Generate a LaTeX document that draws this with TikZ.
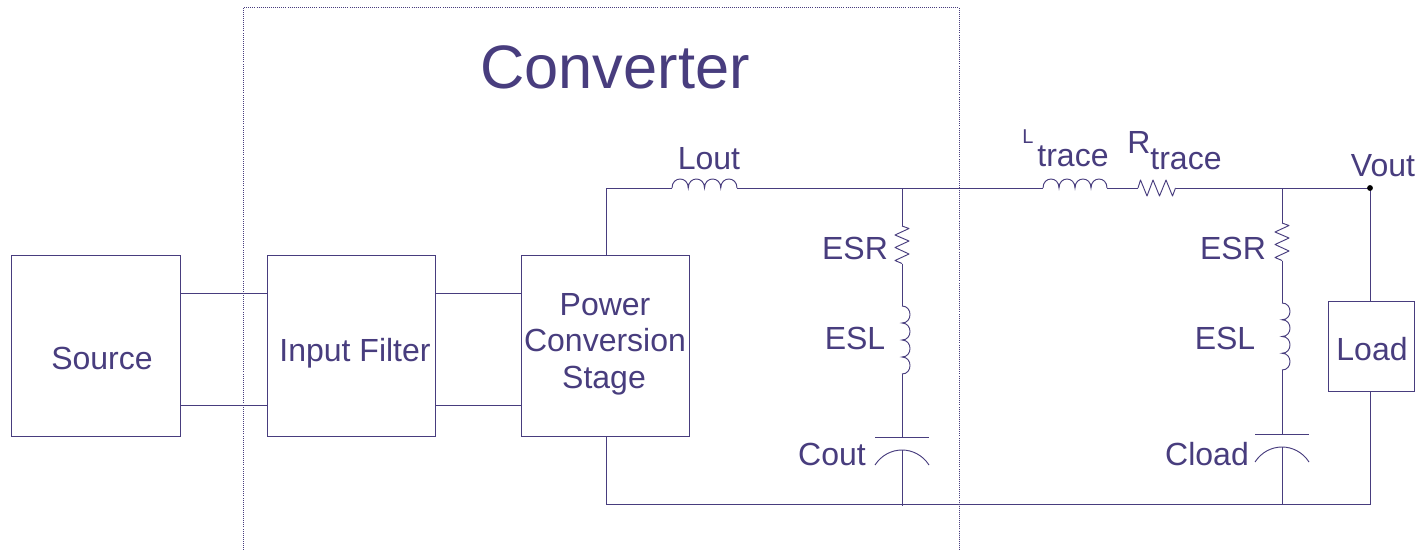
\documentclass[tikz,border=0pt]{standalone}
\usepackage{fontspec}
\setmainfont{Liberation Sans}
\definecolor{ink}{HTML}{483D7E}
\tikzset{
  x=0.75pt, y=-0.75pt,
  wire/.style={draw=ink, line width=0.75pt},
  comp/.style={draw=ink, line width=0.7pt},
  box/.style={draw=ink, line width=0.75pt, inner sep=0pt, minimum height=135.75pt},
  txt/.style={text=ink, inner sep=0pt, anchor=base, font=\fontsize{24}{27}\selectfont},
  pics/coil/.style n args={2}{code={
    \coordinate (-in) at (0,0);
    \coordinate (-out) at (#1,0);
    \draw[comp] (0,0)
      .. controls (0,-4*#2/3) and (#1/4,-4*#2/3) .. (#1/4,0)
      .. controls (#1/4,-4*#2/3) and (#1/2,-4*#2/3) .. (#1/2,0)
      .. controls (#1/2,-4*#2/3) and (3*#1/4,-4*#2/3) .. (3*#1/4,0)
      .. controls (3*#1/4,-4*#2/3) and (#1,-4*#2/3) .. (#1,0);
  }},
  pics/zig/.style={code={
    \coordinate (-in) at (0,0);
    \coordinate (-out) at (37.5,0);
    \draw[comp, line join=round] (0,0) -- (2.5,-#1) -- (9,#1) -- (15,-#1) -- (21.5,#1) -- (28,-#1) -- (34.5,#1) -- (37.5,0);
  }},
  pics/cap/.style={code={
    \coordinate (-plate) at (0,0);
    \coordinate (-arc) at (0,13);
    \draw[comp] (-27,0) -- (27,0);
    \draw[comp] (-27,28) .. controls (-14,8) and (14,8) .. (27,28);
  }},
}
\begin{document}
\begin{tikzpicture}
\useasboundingbox (0,0) rectangle (1423,550);
\fill[white] (0,0) rectangle (1423,550);
% converter frame
\begin{scope}
\clip (0,0) rectangle (1423,550);
\draw[ink, line width=0.55pt, densely dotted] (243,552) -- (243,7.5) -- (959,7.5) -- (959,552);
\end{scope}
% blocks
\node[box, minimum width=126.5pt] (src) at (96,345.5) {};
\node[box, minimum width=126.5pt] (flt) at (351.5,345.5) {};
\node[box, minimum width=126.5pt] (pcs) at (605.5,346) {};
\node[draw=ink, line width=0.75pt, inner sep=0pt, minimum width=64.5pt, minimum height=67.5pt] (load) at (1371,346) {};
% block links
\draw[wire] (src.east |- 0,293) -- (flt.west |- 0,293);
\draw[wire] (src.east |- 0,405) -- (flt.west |- 0,405);
\draw[wire] (flt.east |- 0,293) -- (pcs.west |- 0,293);
\draw[wire] (flt.east |- 0,405) -- (pcs.west |- 0,405);
% series parts
\pic (lout) at (672,188) {coil={65}{9}};
\pic (ltr) at (1043,188) {coil={64}{9}};
\pic (rtr) at (1138,188) {zig=8};
\coordinate (vout) at (1370,188);
\coordinate (gnd) at (1370,504.5);
\coordinate (n1) at (902,188);
\coordinate (n2) at (1282,188);
\coordinate (g1) at (902,506);
\coordinate (g2) at (1282,504.5);
\coordinate (pt) at (606.5,188);
\coordinate (pb) at (606.5,504.5);
% first branch
\pic[rotate=-90] (esr1) at (902,226) {zig=7};
\pic[rotate=-90] (esl1) at (902,306) {coil={68}{8}};
\pic (c1) at (902,437) {cap};
% second branch
\pic[rotate=-90] (esr2) at (1282,223) {zig=7};
\pic[rotate=-90] (esl2) at (1282,303) {coil={67}{8}};
\pic (c2) at (1282,434) {cap};
% wiring
\draw[wire] (pcs.north -| pt) -- (pt) -- (lout-in);
\draw[wire] (lout-out) -- (ltr-in);
\draw[wire] (ltr-out) -- (rtr-in);
\draw[wire] (rtr-out) -- (vout);
\draw[wire] (vout) -- (load.north -| vout);
\draw[wire] (load.south -| vout) -- (gnd) -- (pb) -- (pcs.south -| pb);
\draw[wire] (n1) -- (esr1-in);
\draw[wire] (esr1-out) -- (esl1-in);
\draw[wire] (esl1-out) -- (c1-plate);
\draw[wire] (c1-arc) -- (g1);
\draw[wire] (n2) -- (esr2-in);
\draw[wire] (esr2-out) -- (esl2-in);
\draw[wire] (esl2-out) -- (c2-plate);
\draw[wire] (c2-arc) -- (g2);
\fill[black] (vout) circle[radius=2.2pt];
% labels
\node[txt, font=\fontsize{46}{50}\selectfont] (t0) at (615,88) {Converter};
\node[txt] (t1) at (102,369) {Source};
\node[txt] (t2) at (355,361) {Input Filter};
\node[txt] (t3) at (605,315) {Power};
\node[txt] (t4) at (605,351) {Conversion};
\node[txt] (t5) at (604,388) {Stage};
\node[txt] (t6) at (709,169) {Lout};
\node[txt, font=\fontsize{15}{17}\selectfont] (t7) at (1028,143) {L};
\node[txt] (t8) at (1073,166) {trace};
\node[txt] (t9) at (1139,153) {R};
\node[txt] (t10) at (1186,169) {trace};
\node[txt] (t11) at (1383,176) {Vout};
\node[txt] (t12) at (855,259) {ESR};
\node[txt] (t13) at (855,349) {ESL};
\node[txt] (t14) at (832,465) {Cout};
\node[txt] (t15) at (1233,259) {ESR};
\node[txt] (t16) at (1225,349) {ESL};
\node[txt] (t17) at (1207,465) {Cload};
\node[txt] (t18) at (1372,360) {Load};
\end{tikzpicture}
\end{document}
